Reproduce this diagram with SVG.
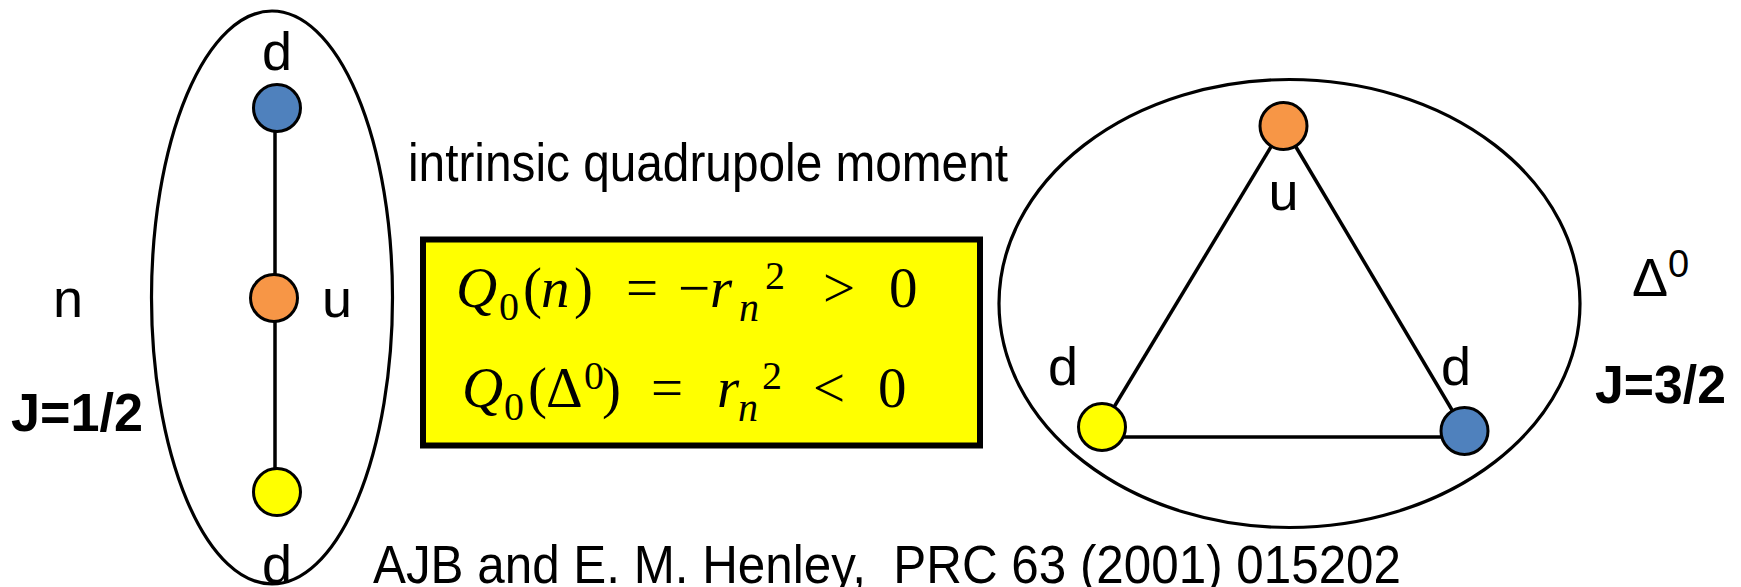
<svg xmlns="http://www.w3.org/2000/svg" width="1741" height="587" viewBox="0 0 1741 587">
<style>
.bg{fill:#fff}
.outline{fill:none;stroke:#000;stroke-width:3.2}
.edge{stroke:#000;stroke-width:3.5;fill:none}
.q{stroke:#000;stroke-width:3}
.blue{fill:#4F81BD}
.orange{fill:#F79646}
.yellow{fill:#FFFF00}
.lbl{font-family:"Liberation Sans",Arial,sans-serif;font-size:54px;fill:#000}
.bold{font-weight:bold;font-size:53px}
.m{font-family:"Liberation Serif","Times New Roman",serif;font-size:57px;fill:#000}
.mi{font-style:italic}
.s{font-size:40px}
</style>
<rect class="bg" x="0" y="0" width="1741" height="587"/>
<g id="neutron-hull"><ellipse class="outline" cx="272" cy="297.5" rx="120.5" ry="286.5"/></g>
<g id="delta-hull"><ellipse class="outline" cx="1289.5" cy="303.5" rx="290.5" ry="224"/></g>
<g id="connectors">
<line class="edge" x1="275" y1="108" x2="275" y2="492"/>
<line class="edge" x1="1283.5" y1="126" x2="1102" y2="427"/>
<line class="edge" x1="1283.5" y1="126" x2="1464.5" y2="431"/>
<line class="edge" x1="1102" y1="437" x2="1464.5" y2="437"/>
</g>
<g id="n-d-top"><circle class="q blue" cx="277" cy="108" r="23.5"/><text class="lbl" x="277" y="70" text-anchor="middle">d</text></g>
<g id="n-u"><circle class="q orange" cx="274" cy="298" r="23.5"/><text class="lbl" x="337" y="317" text-anchor="middle">u</text></g>
<g id="n-d-bottom"><circle class="q yellow" cx="277" cy="492" r="23.5"/><text class="lbl" x="277" y="583" text-anchor="middle">d</text></g>
<g id="delta-u"><circle class="q orange" cx="1283.5" cy="126" r="23.5"/><text class="lbl" x="1283.5" y="210" text-anchor="middle">u</text></g>
<g id="delta-d-left"><circle class="q yellow" cx="1102" cy="427" r="23.5"/><text class="lbl" x="1063" y="385" text-anchor="middle">d</text></g>
<g id="delta-d-right"><circle class="q blue" cx="1464.5" cy="431" r="23.5"/><text class="lbl" x="1456" y="385" text-anchor="middle">d</text></g>
<g id="labels">
<text class="lbl" x="68" y="317" text-anchor="middle" font-size="56">n</text>
<text class="lbl bold" x="11" y="431" textLength="132" lengthAdjust="spacingAndGlyphs">J=1/2</text>
<text class="lbl" x="1632" y="296" font-size="54">Δ<tspan font-size="38" dy="-19">0</tspan></text>
<text class="lbl bold" x="1595" y="403" textLength="131" lengthAdjust="spacingAndGlyphs">J=3/2</text>
<text class="lbl" x="408" y="181" font-size="50" textLength="600" lengthAdjust="spacingAndGlyphs">intrinsic quadrupole moment</text>
<text class="lbl" x="373" y="583" font-size="49" textLength="1028" lengthAdjust="spacingAndGlyphs" xml:space="preserve">AJB and E. M. Henley,  PRC 63 (2001) 015202</text>
</g>
<g id="formula-box">
<rect x="423" y="239.5" width="557" height="206" fill="#FFFF00" stroke="#000" stroke-width="6"/>
<text class="m"><tspan class="mi" x="456" y="307">Q</tspan><tspan class="s" x="499" y="320">0</tspan><tspan x="523" y="307">(</tspan><tspan class="mi" x="541" y="307">n</tspan><tspan x="574" y="307">)</tspan><tspan x="626" y="307">=</tspan><tspan x="678" y="307">−</tspan><tspan class="mi" x="710" y="307">r</tspan><tspan class="mi s" x="739" y="321">n</tspan><tspan class="s" x="765" y="289">2</tspan><tspan x="823" y="307">&gt;</tspan><tspan x="889" y="307">0</tspan></text>
<text class="m"><tspan class="mi" x="462" y="407">Q</tspan><tspan class="s" x="504" y="420">0</tspan><tspan x="528" y="407">(</tspan><tspan x="546" y="407">Δ</tspan><tspan class="s" x="584" y="389">0</tspan><tspan x="602" y="407">)</tspan><tspan x="651" y="407">=</tspan><tspan class="mi" x="717" y="407">r</tspan><tspan class="mi s" x="738" y="421">n</tspan><tspan class="s" x="762" y="389">2</tspan><tspan x="813" y="407">&lt;</tspan><tspan x="878" y="407">0</tspan></text>
</g>
</svg>
